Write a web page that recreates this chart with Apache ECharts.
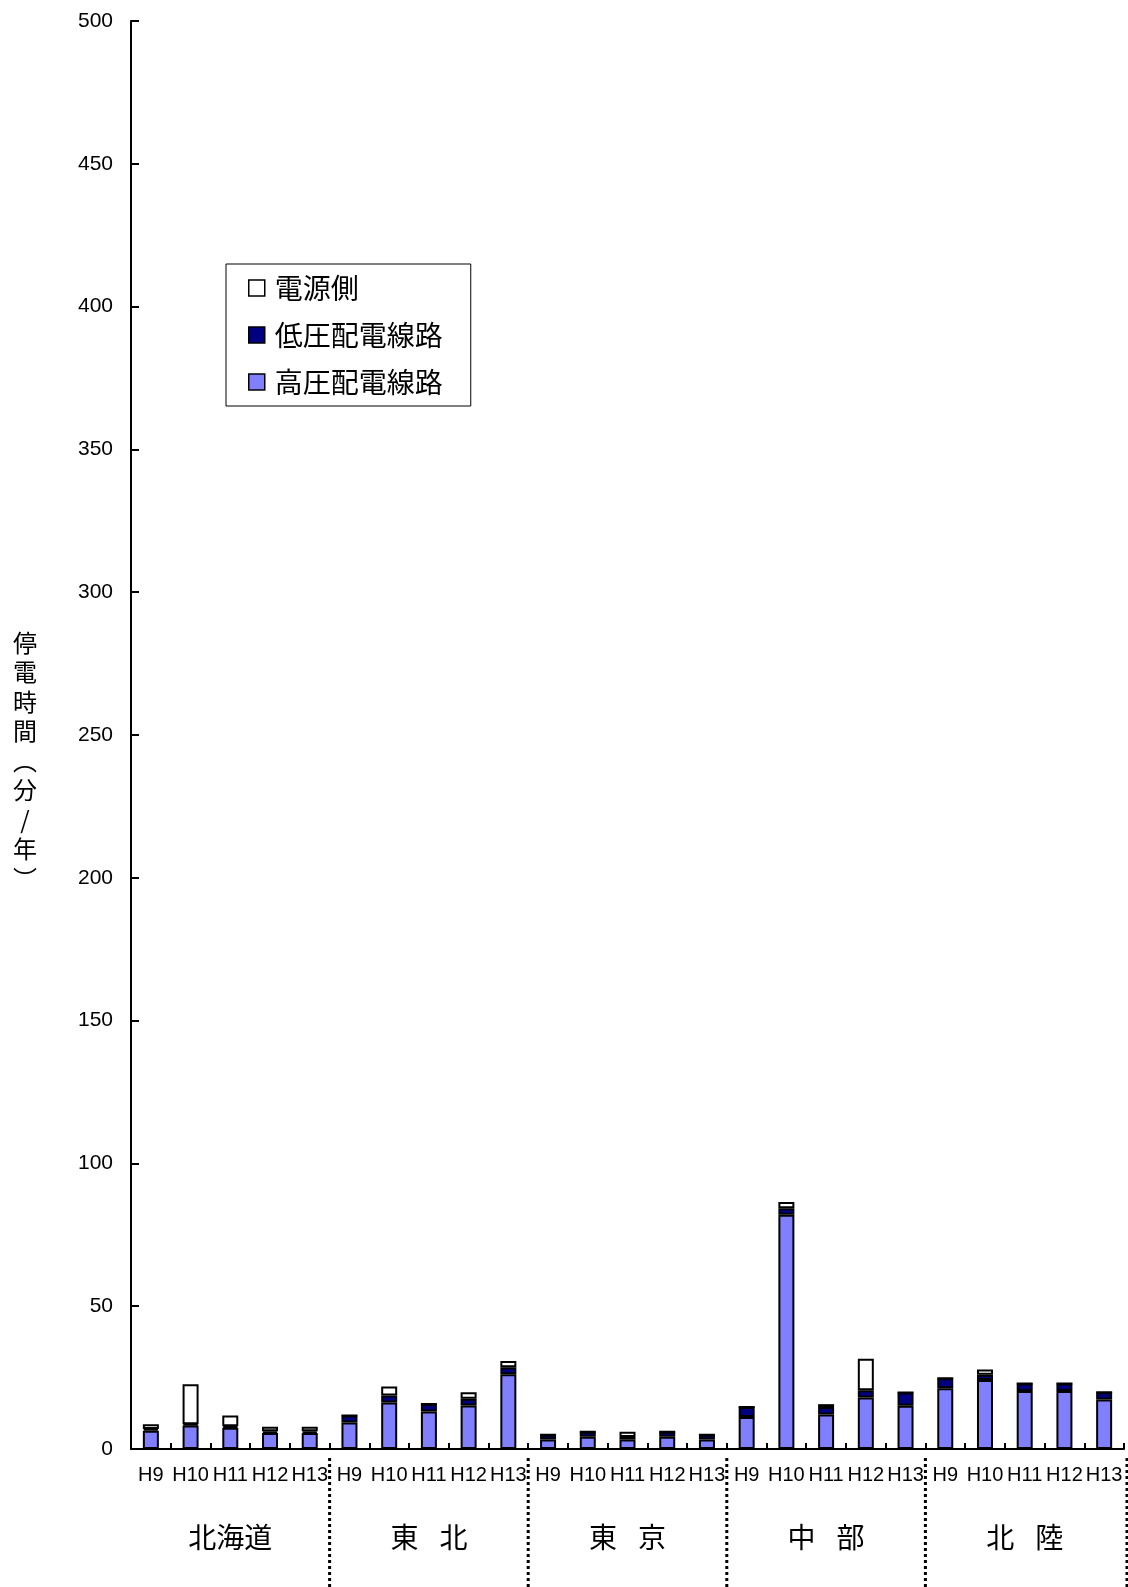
<!DOCTYPE html>
<html><head><meta charset="utf-8">
<script src="https://cdn.jsdelivr.net/npm/echarts@6/dist/echarts.min.js"></script>
<style>html,body{margin:0;padding:0;background:#fff}#c{width:1128px;height:1587px}</style>
</head><body><div id="c"></div>
<script>
const years = ['H9', 'H10', 'H11', 'H12', 'H13'];
const regions = ['北海道', '東\u2002\u2005北', '東\u2002\u2005京', '中\u2002\u2005部', '北\u2002\u2005陸'];
const seriesNames = ['高圧配電線路', '低圧配電線路', '電源側'];
// 高圧配電線路 (bottom)
const highVoltage = [6.4, 8.2, 7.4, 5.6, 5.6,   9.3, 16.3, 13.1, 15.2, 26.2,   3.3, 4.3, 3.3, 4.3, 3.3,   11.2, 82.0, 12.1, 18.0, 15.1,   21.3, 24.2, 20.3, 20.3, 17.3];
// 低圧配電線路 (middle)
const lowVoltage = [0.6, 0.5, 0.6, 0.6, 0.6,   2.4, 2.4, 2.7, 2.4, 2.4,   1.7, 1.7, 0.9, 1.7, 1.7,   3.5, 2.3, 2.6, 2.6, 4.7,   3.5, 1.8, 2.6, 2.6, 2.6];
// 電源側 (top)
const supplySide = [1.7, 14.0, 3.7, 1.6, 1.6,   0, 3.2, 0, 2.3, 2.2,   0, 0, 1.8, 0, 0,   0, 2.2, 1.0, 11.0, 0,   0, 1.8, 0, 0, 0];
const yAxisTitle = ['停', '電', '時', '間', '︵', '分', '/', '年', '︶'];

const categories = [];
regions.forEach(() => years.forEach(y => categories.push(y)));

const chart = echarts.init(document.getElementById('c'), null, {renderer: 'canvas'});
const colors = ['#8080FF', '#000080', '#FFFFFF'];
const dataSets = [highVoltage, lowVoltage, supplySide];

const option = {
  animation: false,
  backgroundColor: '#fff',
  grid: {left: 131, right: 4, top: 21, bottom: 138, outerBoundsMode: 'none', containLabel: false},
  legend: {
    orient: 'vertical', left: 226, top: 264,
    data: ['電源側', '低圧配電線路', '高圧配電線路'],
    icon: 'rect', itemWidth: 16, itemHeight: 16, itemGap: 19,
    padding: [10, 28, 10, 22],
    borderColor: '#000', borderWidth: 1, backgroundColor: '#fff',
    itemStyle: {borderColor: '#000', borderWidth: 1.5},
    textStyle: {fontSize: 28, fontFamily: 'Noto Sans CJK JP', color: '#000', padding: [0, 0, 0, 5]},
    selectedMode: false
  },
  xAxis: {
    type: 'category', data: categories,
    axisLine: {lineStyle: {color: '#000', width: 2}},
    axisTick: {show: true, inside: true, length: 6, alignWithLabel: false, lineStyle: {color: '#000', width: 2}},
    axisLabel: {interval: 0, margin: 16, fontSize: 20, color: '#000', fontFamily: "'Liberation Sans', Arial"}
  },
  yAxis: {
    type: 'value', min: 0, max: 500, interval: 50,
    axisLine: {show: true, lineStyle: {color: '#000', width: 2}},
    axisTick: {show: true, inside: true, length: 8, lineStyle: {color: '#000', width: 2}},
    splitLine: {show: false},
    axisLabel: {margin: 18, fontSize: 21, color: '#000', fontFamily: "'Liberation Sans', Arial"}
  },
  series: seriesNames.map((n, i) => ({
    name: n, type: 'bar', stack: 'total', barWidth: 16,
    data: dataSets[i],
    itemStyle: {color: colors[i], borderColor: '#000', borderWidth: 2},
    emphasis: {disabled: true}
  }))
};
chart.setOption(option);

// decorations: group labels, separators and y-axis title
const px = i => chart.convertToPixel({xAxisIndex: 0}, i);
const yBase = chart.convertToPixel({yAxisIndex: 0}, 0);
const graphics = [];
const n = years.length;
regions.forEach((r, g) => {
  const cx = (px(g * n) + px(g * n + n - 1)) / 2;
  graphics.push({type: 'text', x: cx, y: yBase + 88, style: {text: r, fill: '#000', font: '28px "Noto Sans CJK JP"', textAlign: 'center', textVerticalAlign: 'middle'}});
  let sx;
  if (g < regions.length - 1) sx = (px(g * n + n - 1) + px(g * n + n)) / 2;
  else sx = px(g * n + n - 1) + (px(1) - px(0)) / 2 + 3;
  graphics.push({type: 'line', shape: {x1: sx, y1: yBase + 9, x2: sx, y2: 1587}, style: {stroke: '#000', lineWidth: 3, lineDash: [3, 3]}});
});
graphics.push({type: 'text', x: 25, y: 628, style: {text: yAxisTitle.join('\n'), fill: '#000', font: '24px "Noto Sans CJK JP"', lineHeight: 29.5, textAlign: 'center', textVerticalAlign: 'top'}});
chart.setOption({graphic: graphics});
</script>
</body></html>
